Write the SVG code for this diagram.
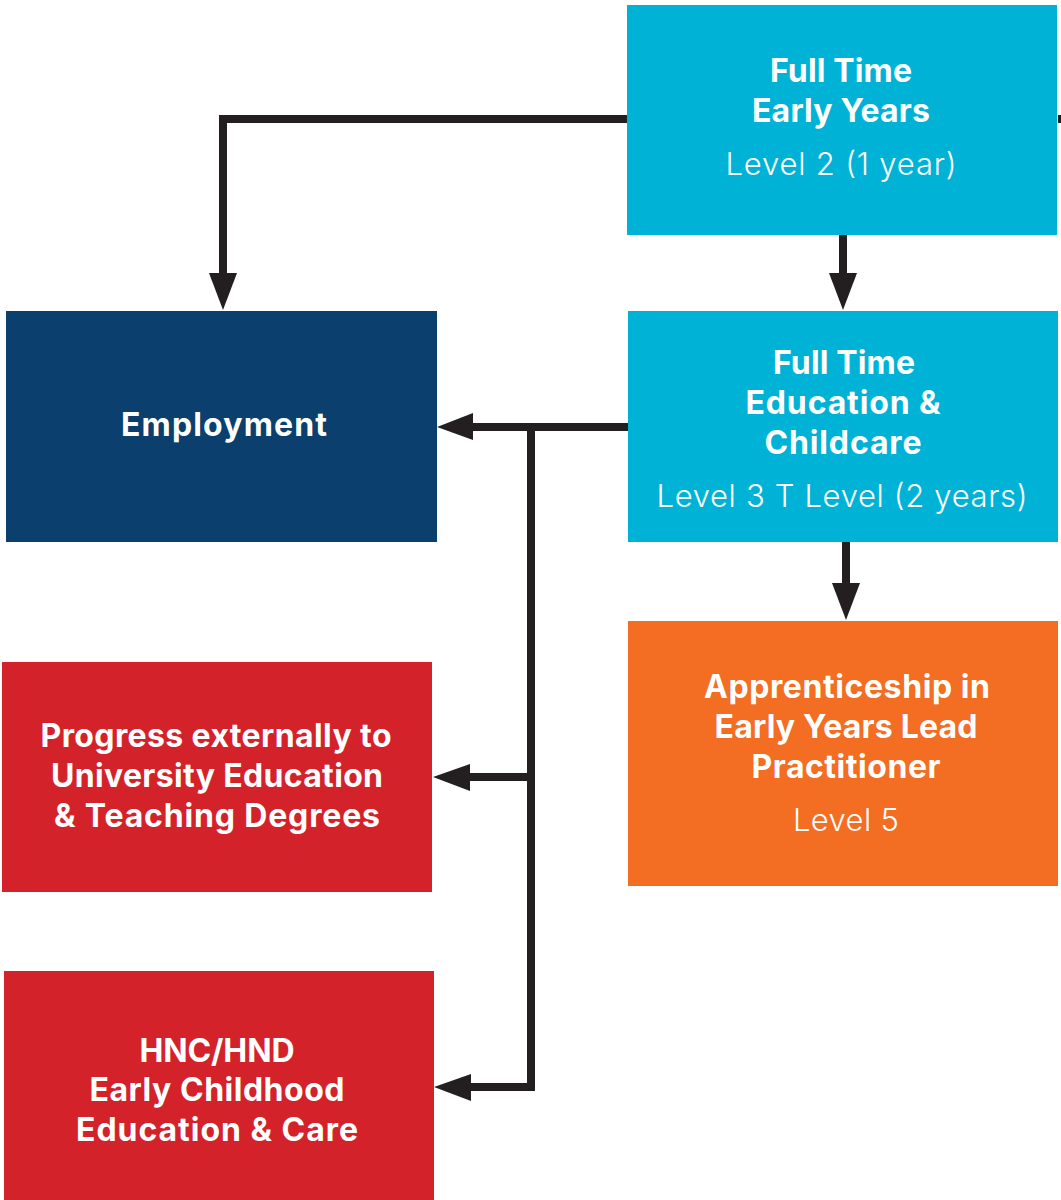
<svg xmlns="http://www.w3.org/2000/svg" width="1061" height="1200" viewBox="0 0 1061 1200">
<defs>
<style>
.b{font-family:Inter,"Open Sans","Liberation Sans",sans-serif;font-weight:700;font-size:32px;fill:#fff;text-anchor:middle}
.r{font-family:Inter,"Open Sans","Liberation Sans",sans-serif;font-weight:300;font-size:31px;fill:#fff;text-anchor:middle}
.ln{fill:none;stroke:#231f20;stroke-width:8}
.ah{fill:#231f20}
.cy{fill:#00b3d6}
.nv{fill:#0a3f6e}
.rd{fill:#d4222a}
.or{fill:#f36d22}
</style>
</defs>
<rect width="1061" height="1200" fill="#fff"/>
<g id="connectors">
<polyline class="ln" points="628,119 223,119 223,275"/>
<polygon class="ah" points="209,273 237,273 223,310"/>
<line class="ln" x1="843" y1="235" x2="843" y2="275"/>
<polygon class="ah" points="829,273 857,273 843,310"/>
<line class="ln" x1="846" y1="542" x2="846" y2="585"/>
<polygon class="ah" points="832,583 860,583 846,620"/>
<line class="ln" x1="628" y1="427" x2="470" y2="427"/>
<polygon class="ah" points="473,413 473,440 437,427"/>
<polyline class="ln" points="531,427 531,1087 470,1087"/>
<line class="ln" x1="531" y1="777" x2="468" y2="777"/>
<polygon class="ah" points="470,764 470,791 433,777"/>
<polygon class="ah" points="471,1074 471,1101 434,1087"/>
<rect x="1058" y="115" width="3" height="8" fill="#231f20"/>
</g>
<g id="fulltime-early-years">
<rect class="cy" x="627" y="5" width="430" height="230"/>
<text class="b" x="841" y="82" textLength="142">Full Time</text>
<text class="b" x="841" y="122" textLength="178">Early Years</text>
<text class="r" x="841" y="175" textLength="231">Level 2 (1 year)</text>
</g>
<g id="employment">
<rect class="nv" x="6" y="311" width="431" height="231"/>
<text class="b" x="224" y="436" textLength="206">Employment</text>
</g>
<g id="fulltime-education-childcare">
<rect class="cy" x="628" y="311" width="430" height="231"/>
<text class="b" x="844" y="374" textLength="142">Full Time</text>
<text class="b" x="843" y="414" textLength="195">Education &amp;</text>
<text class="b" x="843" y="454" textLength="157">Childcare</text>
<text class="r" x="842" y="507" textLength="371">Level 3 T Level (2 years)</text>
</g>
<g id="apprenticeship">
<rect class="or" x="628" y="621" width="430" height="265"/>
<text class="b" x="847" y="698" textLength="286">Apprenticeship in</text>
<text class="b" x="846" y="738" textLength="263">Early Years Lead</text>
<text class="b" x="846" y="778" textLength="189">Practitioner</text>
<text class="r" x="846" y="831" textLength="106">Level 5</text>
</g>
<g id="progress-university">
<rect class="rd" x="2" y="662" width="430" height="230"/>
<text class="b" x="216" y="747" textLength="351">Progress externally to</text>
<text class="b" x="217" y="787" textLength="332">University Education</text>
<text class="b" x="217" y="827" textLength="326">&amp; Teaching Degrees</text>
</g>
<g id="hnc-hnd">
<rect class="rd" x="4" y="971" width="430" height="229"/>
<text class="b" x="217" y="1062" textLength="155">HNC/HND</text>
<text class="b" x="217" y="1101" textLength="255">Early Childhood</text>
<text class="b" x="217" y="1141" textLength="282">Education &amp; Care</text>
</g>
</svg>
